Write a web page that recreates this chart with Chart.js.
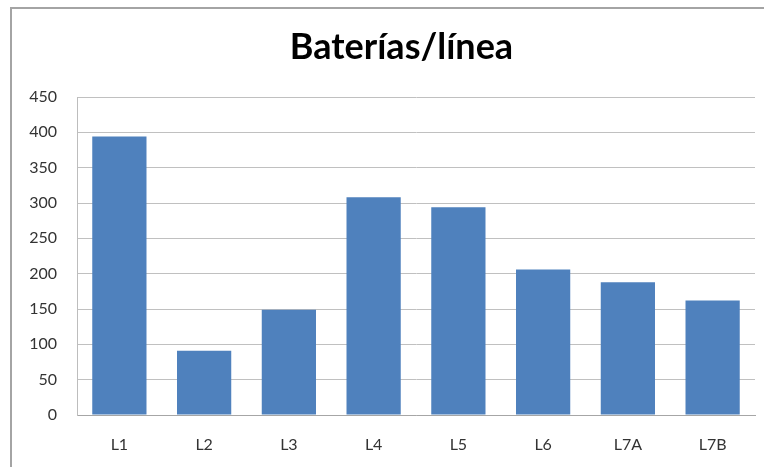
<!DOCTYPE html>
<html>
<head>
<meta charset="utf-8">
<script src="https://cdn.jsdelivr.net/npm/chart.js@4"></script>
<style>
  html, body { margin: 0; padding: 0; background: #fff; overflow: hidden; }
  #wrap { position: relative; width: 764px; height: 467px; overflow: hidden; }
  #frame { position: absolute; left: 10px; top: 7px; width: 800px; height: 520px;
           border-left: 2px solid #a4a4a4; border-top: 2px solid #a4a4a4; }
  #c { position: absolute; left: 0; top: 0; }
</style>
</head>
<body>
<div id="wrap">
  <div id="frame"></div>
  <canvas id="c" width="764" height="467" style="width:764px;height:467px"></canvas>
</div>
<script>
// Battery count per production line
const categories = ['L1', 'L2', 'L3', 'L4', 'L5', 'L6', 'L7A', 'L7B'];
const baterias = [394, 91, 149, 308, 294, 206, 188, 162];
const yMin = 0;
const yMax = 450;
const yStep = 50;
const chartTitle = 'Baterías/línea';

const FONT = "Lato, 'Open Sans', sans-serif";

// Center the title over the span from the tick labels to the plot's right edge
const titleSpan = {
  id: 'titleSpan',
  afterLayout(chart) {
    if (chart.titleBlock) {
      chart.titleBlock.left = 48;
      chart.titleBlock.right = chart.chartArea.right;
    }
  }
};

new Chart(document.getElementById('c'), {
  type: 'bar',
  data: {
    labels: categories,
    datasets: [{
      label: chartTitle,
      data: baterias,
      backgroundColor: '#4f81bd',
      borderWidth: 0,
      barPercentage: 0.64,
      categoryPercentage: 1.0
    }]
  },
  options: {
    responsive: false,
    animation: false,
    layout: { padding: { left: 0, right: 9, top: 0, bottom: 0 } },
    plugins: {
      legend: { display: false },
      tooltip: { enabled: false },
      title: {
        display: true,
        text: chartTitle,
        color: '#000',
        font: { family: FONT, size: 36, weight: 'bold', lineHeight: 1.2 },
        padding: { top: 25.5, bottom: 28.3 }
      }
    },
    scales: {
      x: {
        grid: { display: false, drawTicks: false },
        border: { display: true, color: '#a6a6a6', width: 1 },
        ticks: {
          color: '#333',
          font: { family: FONT, size: 16 },
          padding: 20,
          maxRotation: 0
        },
        afterFit: (s) => { s.height = 52; }
      },
      y: {
        min: yMin,
        max: yMax,
        grid: { color: '#c0c0c0', lineWidth: 1, drawTicks: false },
        border: { display: true, color: '#bdbdbd', width: 1 },
        ticks: {
          stepSize: yStep,
          color: '#333',
          font: { family: FONT, size: 16 },
          padding: 20
        },
        afterFit: (s) => { s.width = 77; }
      }
    }
  },
  plugins: [titleSpan]
});
</script>
</body>
</html>
